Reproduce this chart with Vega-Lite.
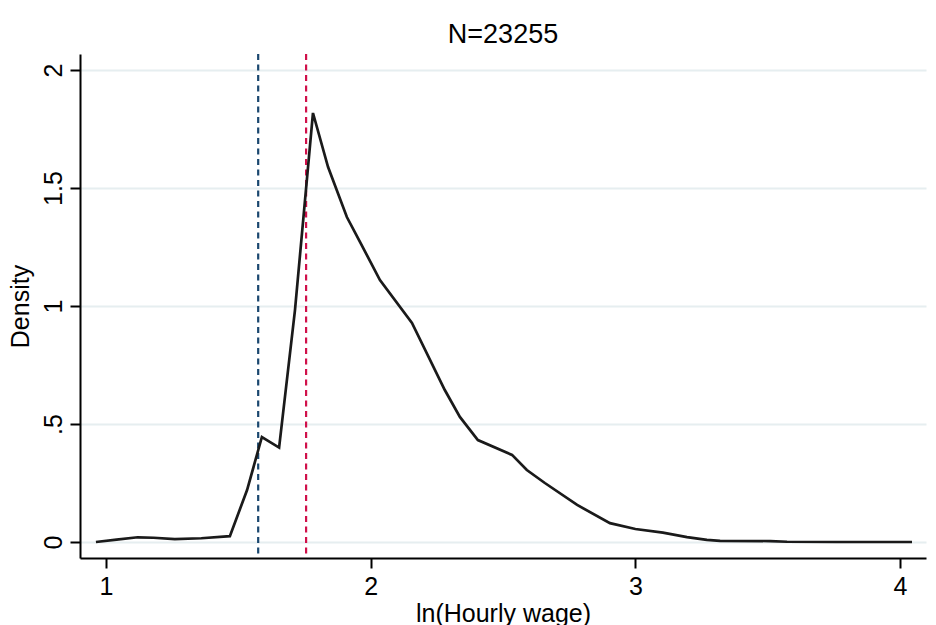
{
  "$schema": "https://vega.github.io/schema/vega-lite/v6.json",
  "width": 846,
  "height": 504,
  "autosize": {"type": "none"},
  "padding": {"left": 80, "top": 54, "right": 10, "bottom": 67},
  "background": "white",
  "title": {
    "text": "N=23255",
    "font": "Liberation Sans",
    "fontSize": 27,
    "fontWeight": "normal",
    "color": "black",
    "anchor": "middle",
    "offset": 4
  },
  "config": {
    "view": {"stroke": null},
    "axis": {
      "labelFont": "Liberation Sans",
      "titleFont": "Liberation Sans",
      "labelFontSize": 25,
      "titleFontSize": 25,
      "titleFontWeight": "normal",
      "labelColor": "black",
      "titleColor": "black",
      "domainColor": "black",
      "domainWidth": 2,
      "tickColor": "black",
      "tickWidth": 2,
      "tickSize": 10
    }
  },
  "datasets": {
    "density": [
      {"lnwage": 0.962, "density": 0.0},
      {"lnwage": 1.04, "density": 0.01},
      {"lnwage": 1.12, "density": 0.02},
      {"lnwage": 1.18, "density": 0.018},
      {"lnwage": 1.26, "density": 0.012},
      {"lnwage": 1.36, "density": 0.016},
      {"lnwage": 1.468, "density": 0.025},
      {"lnwage": 1.533, "density": 0.22},
      {"lnwage": 1.589, "density": 0.445},
      {"lnwage": 1.654, "density": 0.4},
      {"lnwage": 1.714, "density": 0.983},
      {"lnwage": 1.782, "density": 1.818},
      {"lnwage": 1.839, "density": 1.589},
      {"lnwage": 1.91, "density": 1.377},
      {"lnwage": 1.96, "density": 1.271},
      {"lnwage": 2.035, "density": 1.11},
      {"lnwage": 2.156, "density": 0.928},
      {"lnwage": 2.28, "density": 0.644},
      {"lnwage": 2.337, "density": 0.53},
      {"lnwage": 2.405, "density": 0.432},
      {"lnwage": 2.534, "density": 0.369},
      {"lnwage": 2.59, "density": 0.305},
      {"lnwage": 2.658, "density": 0.25},
      {"lnwage": 2.78, "density": 0.157},
      {"lnwage": 2.904, "density": 0.08},
      {"lnwage": 3.0, "density": 0.055},
      {"lnwage": 3.104, "density": 0.04},
      {"lnwage": 3.195, "density": 0.021},
      {"lnwage": 3.27, "density": 0.009},
      {"lnwage": 3.32, "density": 0.005},
      {"lnwage": 3.51, "density": 0.004},
      {"lnwage": 3.573, "density": 0.001},
      {"lnwage": 3.76, "density": 0.0},
      {"lnwage": 4.045, "density": 0.0}
    ],
    "refs": [
      {"lnwage": 1.575, "ref": "blue"},
      {"lnwage": 1.756, "ref": "red"}
    ]
  },
  "layer": [
    {
      "data": {"name": "refs"},
      "mark": {"type": "rule", "strokeWidth": 2.2, "strokeDash": [6, 4.5]},
      "encoding": {
        "x": {"field": "lnwage", "type": "quantitative", "scale": {"domain": [0.9018, 4.098], "nice": false, "zero": false}},
        "color": {"field": "ref", "type": "nominal", "scale": {"domain": ["blue", "red"], "range": ["#1a476f", "#d0104a"]}, "legend": null}
      }
    },
    {
      "data": {"name": "density"},
      "mark": {"type": "line", "color": "#1a1a1a", "strokeWidth": 2.7},
      "encoding": {
        "x": {
          "field": "lnwage",
          "type": "quantitative",
          "title": "ln(Hourly wage)",
          "scale": {"domain": [0.9018, 4.098], "nice": false, "zero": false},
          "axis": {"values": [1, 2, 3, 4], "format": "~g", "grid": false, "labelPadding": 6, "titlePadding": 2}
        },
        "y": {
          "field": "density",
          "type": "quantitative",
          "title": "Density",
          "scale": {"domain": [-0.0678, 2.068], "nice": false, "zero": false},
          "axis": {
            "values": [0, 0.5, 1, 1.5, 2],
            "format": "~g",
            "labelExpr": "datum.value == 0.5 ? '.5' : datum.label",
            "labelAngle": -90,
            "labelAlign": "center",
            "labelBaseline": "bottom",
            "labelPadding": 4,
            "titlePadding": 8,
            "grid": true,
            "gridColor": "#e6eef0",
            "gridWidth": 2
          }
        }
      }
    }
  ]
}
